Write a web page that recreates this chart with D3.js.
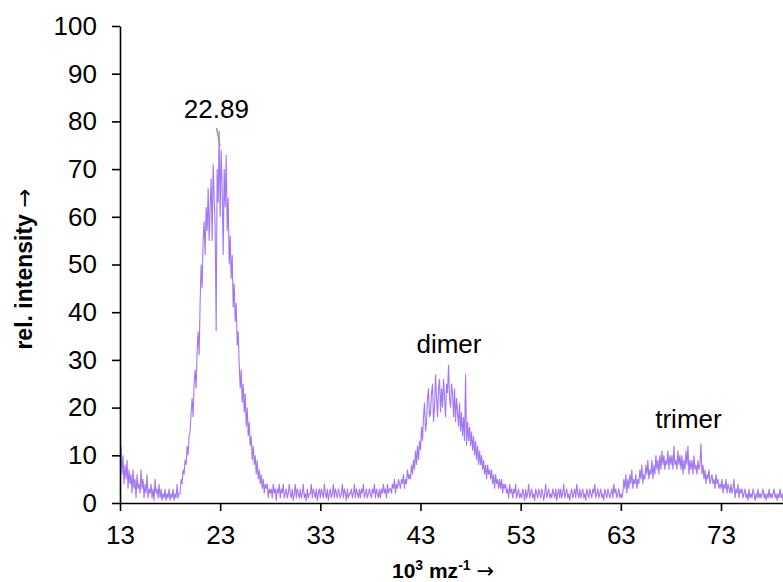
<!DOCTYPE html>
<html>
<head>
<meta charset="utf-8">
<script src="https://cdn.jsdelivr.net/npm/d3@7"></script>
<style>
  html, body { margin: 0; padding: 0; background: #fff; }
  svg { display: block; }
  text { font-family: "Liberation Sans", Arial, sans-serif; fill: #000; }
</style>
</head>
<body>
<svg id="chart" width="783" height="582"></svg>
<script>
// Spectrum sampled every 0.1 units of 10^3 mz^-1, starting at 13.0
const mzStart = 13.0;
const mzStep = 0.1;
const intensity = [
  /*13*/ 9,12,6,10,4,8,5,9,3,7,
  /*14*/ 4,6,2,7,3,5,1,6,3,4,
  /*15*/ 2,7,3,5,1,4,2,6,1,3,
  /*16*/ 2,4,1,3,0.5,5,2,3,1,4,
  /*17*/ 1,3,0.5,2,1,3,0.5,2,1,3,
  /*18*/ 0.5,2,1,3,0.5,2,1,4,1,2,
  /*19*/ 2,5,4,7,6,9,8,12,10,14,
  /*20*/ 15,19,22,18,25,28,24,32,36,31,
  /*21*/ 42,50,45,55,59,52,62,57,66,55,
  /*22*/ 62,68,55,71,64,58,36,70,63,78,
  /*23*/ 60,74,66,52,70,62,73,57,64,50,
  /*24*/ 56,47,52,41,46,38,42,33,36,29,
  /*25*/ 24,28,21,25,19,23,16,20,14,17,
  /*26*/ 12,14,9,12,8,10,6,9,5,7,
  /*27*/ 4,6,3,5,2,4,3,4,1,3,
  /*28*/ 2,3,1,4,2,3,0.5,3,2,4,
  /*29*/ 1,3,2,4,1,2,3,1,2,4,
  /*30*/ 2,1,3,0.5,2,4,1,3,2,1,
  /*31*/ 3,1,2,4,1,2,0.5,3,1,2,
  /*32*/ 2,4,1,3,2,1,3,0.5,2,3,
  /*33*/ 1,3,2,1,4,2,1,3,0.5,2,
  /*34*/ 3,1,2,4,1,3,2,1,3,2,
  /*35*/ 1,2,4,1,3,2,0.5,3,1,2,
  /*36*/ 2,3,1,2,4,1,3,2,1,3,
  /*37*/ 1,3,2,4,1,2,3,1,2,3,
  /*38*/ 2,1,3,2,4,1,3,2,1,3,
  /*39*/ 1,3,2,4,2,3,1,4,2,3,
  /*40*/ 3,2,4,3,5,2,4,3,5,4,
  /*41*/ 3,5,4,6,3,5,4,7,5,6,
  /*42*/ 5,8,6,9,7,11,8,12,9,13,
  /*43*/ 11,16,13,18,21,15,17,22,24,18,
  /*44*/ 19,23,25,17,20,27,22,18,24,26,
  /*45*/ 19,24,20,26,22,18,25,23,29,22,
  /*46*/ 20,25,23,18,24,17,22,19,16,21,
  /*47*/ 15,19,14,18,13,27,12,17,13,16,
  /*48*/ 12,15,11,14,10,13,9,12,8,11,
  /*49*/ 8,10,7,9,6,8,5,8,6,7,
  /*50*/ 5,7,4,6,3,6,4,5,3,5,
  /*51*/ 3,5,2,4,3,4,2,3,1,4,
  /*52*/ 2,3,1,3,2,4,1,2,3,1,
  /*53*/ 2,1,3,2,0.5,3,1,2,4,1,
  /*54*/ 2,3,1,2,0.5,3,2,1,3,2,
  /*55*/ 1,3,2,0.5,2,4,1,2,3,1,
  /*56*/ 2,1,3,2,1,3,0.5,2,3,1,
  /*57*/ 3,1,2,4,1,2,3,1,2,0.5,
  /*58*/ 2,3,1,2,3,1,4,2,1,3,
  /*59*/ 1,2,3,1,2,0.5,3,2,1,3,
  /*60*/ 2,1,3,2,4,1,2,3,1,2,
  /*61*/ 3,1,2,0.5,3,2,1,3,2,1,
  /*62*/ 2,3,1,4,2,3,1,2,3,1,
  /*63*/ 2,1,2,5,3,6,2,5,3,6,
  /*64*/ 4,7,3,5,4,6,3,5,4,7,
  /*65*/ 5,8,4,6,5,8,6,9,5,7,
  /*66*/ 6,9,5,8,6,10,7,9,6,10,
  /*67*/ 7,11,8,10,7,9,8,11,7,10,
  /*68*/ 8,10,7,12,8,9,7,11,8,10,
  /*69*/ 7,10,6,9,7,11,8,12,6,9,
  /*70*/ 7,9,6,10,7,8,6,9,7,8,
  /*71*/ 12.5,6,8,5,7,4,6,5,7,4,
  /*72*/ 5,6,4,5,3,6,4,5,3,4,
  /*73*/ 3,5,2,4,3,5,2,4,3,2,
  /*74*/ 4,2,3,5,1,3,2,4,1,3,
  /*75*/ 2,3,1,2,3,1,2,0.5,3,1,
  /*76*/ 2,1,3,2,0.5,2,1,3,1,2,
  /*77*/ 1,2,3,1,2,0.5,2,1,3,1,
  /*78*/ 2,1,2,3,1,2,0.5,2,1,3,
  /*79*/ 1,2,0.5,2,1,3,1,2,1,2
];

const xTicks = [13, 23, 33, 43, 53, 63, 73];
const yTicks = [0, 10, 20, 30, 40, 50, 60, 70, 80, 90, 100];

// Peak annotations: label text, anchor position in data units
const peakLabels = ["22.89", "dimer", "trimer"];
const peakLabelMz = [22.62, 45.84, 69.75];
const peakLabelY = [80.7, 31.4, 15.7];
const markedPeakMz = 22.89;

const svg = d3.select("#chart");
const x = d3.scaleLinear().domain([13, 79.2]).range([120, 783.1]);
const y = d3.scaleLinear().domain([0, 100]).range([503, 26]);

svg.append("defs").append("clipPath").attr("id", "plot-clip")
  .append("rect").attr("x", 120).attr("y", 0).attr("width", 663).attr("height", 503);

const points = intensity.map((v, i) => [mzStart + i * mzStep, v]);

svg.append("path")
  .datum(points)
  .attr("clip-path", "url(#plot-clip)")
  .attr("fill", "none")
  .attr("stroke", "#9868f4")
  .attr("stroke-opacity", 0.9)
  .attr("stroke-width", 1.1)
  .attr("stroke-linejoin", "miter")
  .attr("d", d3.line().x(d => x(d[0])).y(d => y(d[1])));

// Axes
const xAxis = svg.append("g")
  .attr("transform", "translate(0,503)")
  .call(d3.axisBottom(x).tickValues(xTicks).tickSize(8).tickPadding(15).tickSizeOuter(0));
const yAxis = svg.append("g")
  .attr("transform", "translate(120,0)")
  .call(d3.axisLeft(y).tickValues(yTicks).tickSize(8).tickPadding(15).tickSizeOuter(0));

[xAxis, yAxis].forEach(g => {
  g.select(".domain").attr("stroke", "#000").attr("stroke-width", 1.6);
  g.selectAll(".tick line").attr("stroke", "#000").attr("stroke-width", 1.6);
  g.selectAll(".tick text")
    .attr("font-family", "'Liberation Sans', Arial, sans-serif")
    .attr("font-size", 26)
    .attr("fill", "#000");
});

// Axis titles
const xTitle = svg.append("text")
  .attr("x", 443).attr("y", 578)
  .attr("text-anchor", "middle")
  .attr("font-size", 21).attr("font-weight", "bold");
xTitle.append("tspan").text("10");
xTitle.append("tspan").attr("font-size", 14).attr("dy", -8).text("3");
xTitle.append("tspan").attr("dy", 8).text(" mz");
xTitle.append("tspan").attr("font-size", 14).attr("dy", -8).text("-1");
xTitle.append("tspan").attr("dy", 8).text(" ");
xTitle.append("tspan").attr("font-family", "'DejaVu Sans', sans-serif").attr("font-weight", "normal").text("\u2192");

const yTitle = svg.append("text")
  .attr("transform", "translate(32,269) rotate(-90)")
  .attr("text-anchor", "middle")
  .attr("font-size", 23).attr("font-weight", "bold");
yTitle.append("tspan").text("rel. intensity ");
yTitle.append("tspan").attr("font-family", "'DejaVu Sans', sans-serif").attr("font-weight", "normal").text("\u2192");

// Leader line for the marked peak
svg.append("line")
  .attr("x1", x(markedPeakMz) - 2.4).attr("y1", y(78.6))
  .attr("x2", x(markedPeakMz) + 0.9).attr("y2", y(74.8))
  .attr("stroke", "#9a9a9a").attr("stroke-width", 1.6);

svg.selectAll("text.peak-label")
  .data(peakLabels)
  .join("text")
  .attr("class", "peak-label")
  .attr("x", (d, i) => x(peakLabelMz[i]))
  .attr("y", (d, i) => y(peakLabelY[i]))
  .attr("text-anchor", "middle")
  .attr("font-size", 26)
  .text(d => d);
</script>
</body>
</html>
